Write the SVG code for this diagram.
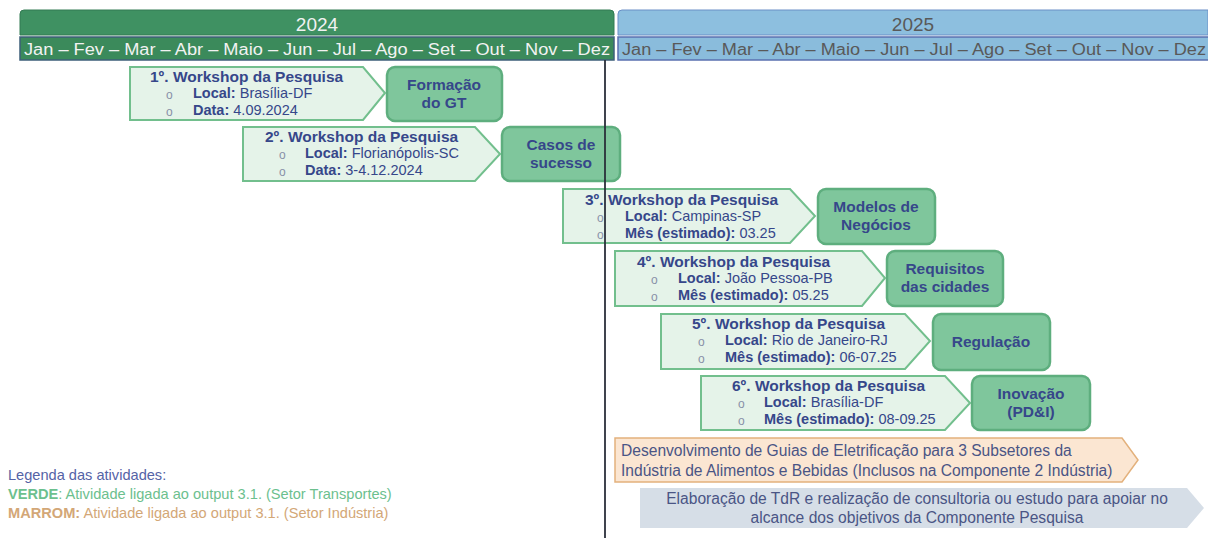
<svg xmlns="http://www.w3.org/2000/svg" width="1208" height="538" viewBox="0 0 1208 538">
<style>
text{font-family:"Liberation Sans",Arial,sans-serif}
.pent{fill:#e5f3e9;stroke:#72bf8d;stroke-width:2}
.box{fill:#7fc69c;stroke:#5eae7e;stroke-width:2.5}
.t{font-size:15.5px;font-weight:bold;fill:#36478a}
.l{font-size:14.5px;fill:#36478a}
.lb{font-weight:bold}
.bul{font-size:12px;fill:#8890a8}
.bt{font-size:15.5px;font-weight:bold;fill:#36478a;text-anchor:middle}
.mon{font-size:16px}
</style>
<rect width="1208" height="538" fill="#ffffff"/>
<g id="header2024">
<path d="M20,35 V14 Q20,10 24,10 H610 Q614,10 614,14 V35 Z" fill="#3f9162" stroke="#327a52" stroke-width="1"/>
<text x="317" y="31" font-size="19" fill="#f2f2f2" text-anchor="middle">2024</text>
<rect x="20" y="37" width="594" height="23" fill="#3b8a5b" stroke="#3e5f7a" stroke-width="1.5"/>
<text class="mon" x="24" y="55" fill="#f2f2f2" textLength="586" lengthAdjust="spacingAndGlyphs">Jan – Fev – Mar – Abr – Maio – Jun – Jul – Ago – Set – Out – Nov – Dez</text>
</g>
<g id="header2025">
<path d="M618,35 V14 Q618,10 622,10 H1208 V35 Z" fill="#8dbfdf" stroke="#6a8fc6" stroke-width="1"/>
<text x="913" y="31" font-size="19" fill="#595959" text-anchor="middle">2025</text>
<rect x="618" y="37" width="592" height="23" fill="#8abcdc" stroke="#5a70b0" stroke-width="1.5"/>
<text class="mon" x="622" y="55" fill="#595959" textLength="584" lengthAdjust="spacingAndGlyphs">Jan – Fev – Mar – Abr – Maio – Jun – Jul – Ago – Set – Out – Nov – Dez</text>
</g>
<g id="ws1">
<polygon class="pent" points="130,67 363,67 385,93 363,120 130,120"/>
<text class="t" x="150" y="82">1º. Workshop da Pesquisa</text>
<text class="bul" x="166" y="99">o</text><text class="l" x="193" y="98"><tspan class="lb">Local:</tspan> Brasília-DF</text>
<text class="bul" x="166" y="116">o</text><text class="l" x="193" y="115"><tspan class="lb">Data:</tspan> 4.09.2024</text>
</g>
<g id="out1">
<rect class="box" x="387" y="67" width="115" height="54" rx="8"/>
<text class="bt" x="444" y="90">Formação</text><text class="bt" x="444" y="108">do GT</text>
</g>
<g id="ws2">
<polygon class="pent" points="243,127 475,127 500,154 475,181 243,181"/>
<text class="t" x="265" y="142">2º. Workshop da Pesquisa</text>
<text class="bul" x="279" y="159">o</text><text class="l" x="305" y="158"><tspan class="lb">Local:</tspan> Florianópolis-SC</text>
<text class="bul" x="279" y="176">o</text><text class="l" x="305" y="175"><tspan class="lb">Data:</tspan> 3-4.12.2024</text>
</g>
<g id="out2">
<rect class="box" x="502" y="127" width="118" height="54" rx="8"/>
<text class="bt" x="561" y="150">Casos de</text><text class="bt" x="561" y="168">sucesso</text>
</g>
<g id="ws3">
<polygon class="pent" points="563,189 790,189 815,216 790,243 563,243"/>
<text class="t" x="585" y="205">3º. Workshop da Pesquisa</text>
<text class="bul" x="597" y="222">o</text><text class="l" x="625" y="221"><tspan class="lb">Local:</tspan> Campinas-SP</text>
<text class="bul" x="597" y="239">o</text><text class="l" x="625" y="238"><tspan class="lb">Mês (estimado):</tspan> 03.25</text>
</g>
<g id="out3">
<rect class="box" x="818" y="189" width="117" height="55" rx="8"/>
<text class="bt" x="876" y="212">Modelos de</text><text class="bt" x="876" y="230">Negócios</text>
</g>
<g id="ws4">
<polygon class="pent" points="615,251 862,251 885,278 862,306 615,306"/>
<text class="t" x="637" y="267">4º. Workshop da Pesquisa</text>
<text class="bul" x="651" y="284">o</text><text class="l" x="678" y="283"><tspan class="lb">Local:</tspan> João Pessoa-PB</text>
<text class="bul" x="651" y="301">o</text><text class="l" x="678" y="300"><tspan class="lb">Mês (estimado):</tspan> 05.25</text>
</g>
<g id="out4">
<rect class="box" x="887" y="251" width="116" height="55" rx="8"/>
<text class="bt" x="945" y="274">Requisitos</text><text class="bt" x="945" y="292">das cidades</text>
</g>
<g id="ws5">
<polygon class="pent" points="661,314 905,314 930,341 905,369 661,369"/>
<text class="t" x="692" y="329">5º. Workshop da Pesquisa</text>
<text class="bul" x="698" y="346">o</text><text class="l" x="725" y="345"><tspan class="lb">Local:</tspan> Rio de Janeiro-RJ</text>
<text class="bul" x="698" y="363">o</text><text class="l" x="725" y="362"><tspan class="lb">Mês (estimado):</tspan> 06-07.25</text>
</g>
<g id="out5">
<rect class="box" x="933" y="314" width="117" height="56" rx="8"/>
<text class="bt" x="991" y="347">Regulação</text>
</g>
<g id="ws6">
<polygon class="pent" points="701,376 945,376 970,403 945,430 701,430"/>
<text class="t" x="732" y="391">6º. Workshop da Pesquisa</text>
<text class="bul" x="738" y="408">o</text><text class="l" x="764" y="407"><tspan class="lb">Local:</tspan> Brasília-DF</text>
<text class="bul" x="738" y="425">o</text><text class="l" x="764" y="424"><tspan class="lb">Mês (estimado):</tspan> 08-09.25</text>
</g>
<g id="out6">
<rect class="box" x="972" y="376" width="118" height="54" rx="8"/>
<text class="bt" x="1031" y="399">Inovação</text><text class="bt" x="1031" y="417">(PD&amp;I)</text>
</g>
<g id="industria">
<polygon points="615,438 1122,438 1138,460 1122,482 615,482" fill="#fbe6d2" stroke="#e3b17c" stroke-width="1.5"/>
<text x="621" y="456" font-size="15.6" fill="#4a5585">Desenvolvimento de Guias de Eletrificação para 3 Subsetores da</text>
<text x="621" y="476" font-size="15.6" fill="#4a5585">Indústria de Alimentos e Bebidas (Inclusos na Componente 2 Indústria)</text>
</g>
<g id="tdr">
<polygon points="640,488 1187,488 1204,508 1187,528 640,528" fill="#d6dee7"/>
<text x="917" y="504" font-size="15.6" fill="#4a5585" text-anchor="middle">Elaboração de TdR e realização de consultoria ou estudo para apoiar no</text>
<text x="917" y="523" font-size="15.6" fill="#4a5585" text-anchor="middle">alcance dos objetivos da Componente Pesquisa</text>
</g>
<g id="connectors">
<line x1="605" y1="60" x2="605" y2="538" stroke="#2b2f3a" stroke-width="1.8"/>
</g>
<g id="legend">
<text x="8" y="480" font-size="14.6" fill="#5563a6">Legenda das atividades:</text>
<text x="8" y="499" font-size="14.6" fill="#6cc08e"><tspan font-weight="bold">VERDE</tspan>: Atividade ligada ao output 3.1. (Setor Transportes)</text>
<text x="8" y="518" font-size="14.6" fill="#d3a777"><tspan font-weight="bold">MARROM:</tspan> Atividade ligada ao output 3.1. (Setor Indústria)</text>
</g>
</svg>
